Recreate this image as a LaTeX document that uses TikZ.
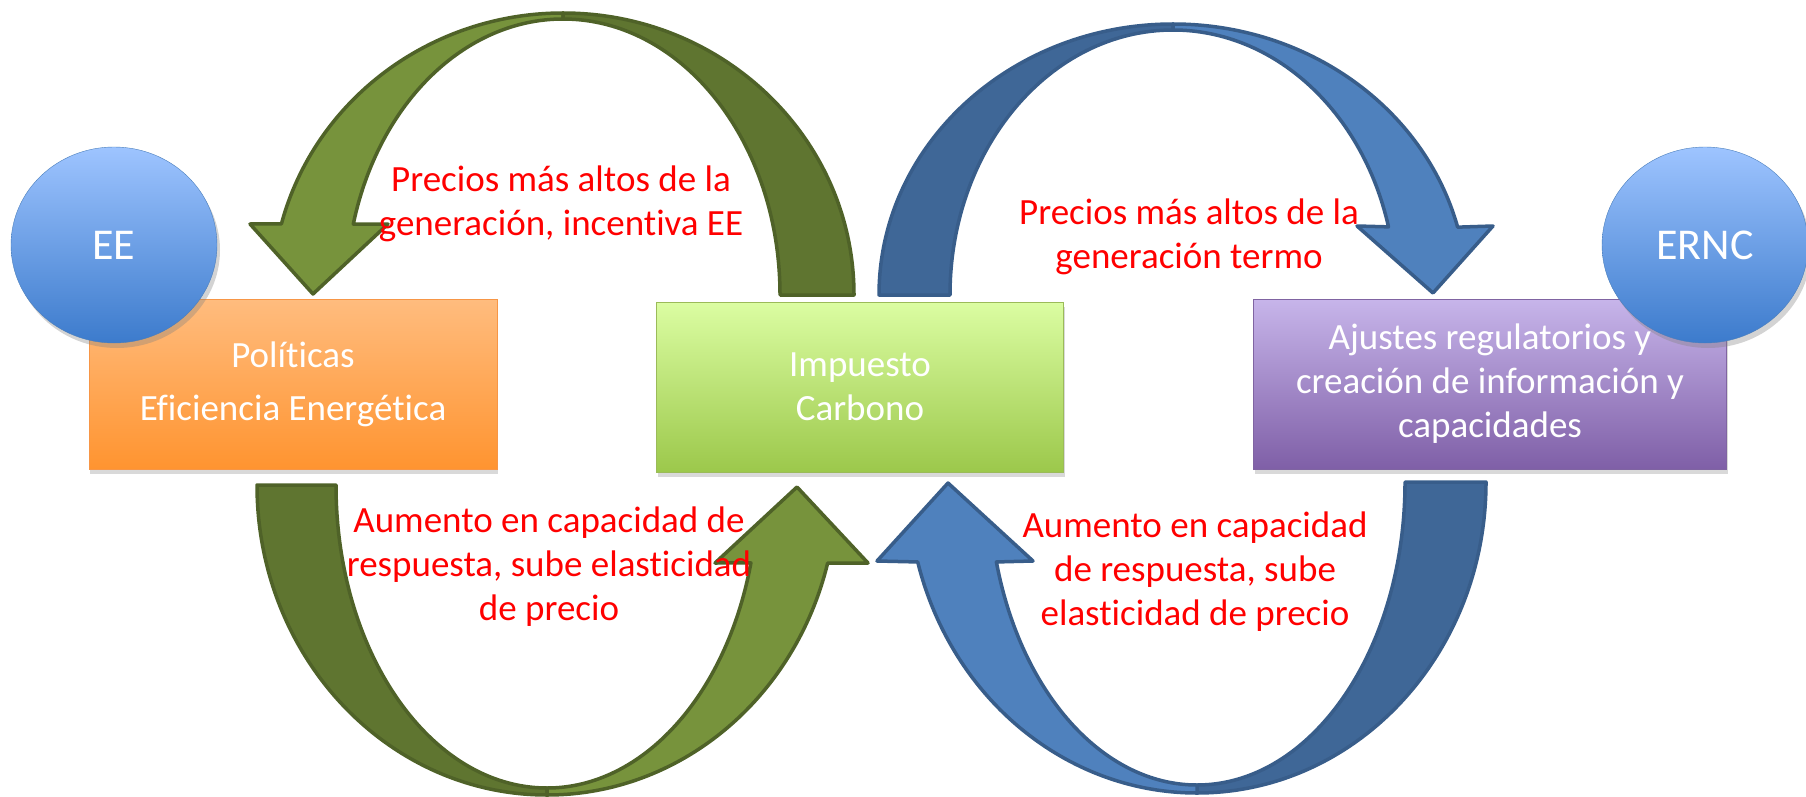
\documentclass[tikz,border=0pt]{standalone}
\usepackage{fontspec}
\setmainfont{Carlito}[Ligatures=CommonOff]
\usetikzlibrary{calc,shadows,shapes.geometric}
\definecolor{oliveA}{HTML}{77933C}
\definecolor{oliveB}{HTML}{5F7530}
\definecolor{oliveL}{HTML}{4F6228}
\definecolor{blueA}{HTML}{4F81BD}
\definecolor{blueB}{HTML}{3F6797}
\definecolor{blueL}{HTML}{385D8A}
\definecolor{orangeT}{HTML}{FFBC7E}
\definecolor{orangeB}{HTML}{FF9430}
\definecolor{orangeL}{HTML}{F79646}
\definecolor{limeT}{HTML}{DBFDA2}
\definecolor{limeB}{HTML}{9CC84B}
\definecolor{limeL}{HTML}{9BBB59}
\definecolor{lilacT}{HTML}{C7B5EA}
\definecolor{lilacB}{HTML}{7F5FA7}
\definecolor{lilacL}{HTML}{8064A2}
\definecolor{ballT}{HTML}{9EC4FF}
\definecolor{ballB}{HTML}{3C7BCC}
\definecolor{ballL}{HTML}{4A7EBB}
\tikzset{
  band/.style={line width=3.5pt, line join=round},
  box/.style={minimum height=170pt, inner sep=0pt, align=center, text=white,
    font=\fontsize{37}{44}\selectfont,
    drop shadow={shadow xshift=1pt, shadow yshift=-5pt, opacity=0.3}},
  ball/.style={ellipse, minimum width=206pt, minimum height=196pt, draw=ballL,
    top color=ballT, bottom color=ballB, text=white,
    font=\fontsize{44}{52}\selectfont,
    drop shadow={shadow xshift=3pt, shadow yshift=-5pt, opacity=0.35}},
  cue/.style={text=red, align=center, font=\fontsize{37}{44}\selectfont}
}
\begin{document}
\begin{tikzpicture}[x=1pt, y=-1pt]
\useasboundingbox (0,0) rectangle (1806,797);
\coordinate (gt) at (563,295);
\coordinate (gb) at (547,485);
\coordinate (bt) at (1173,295);
\coordinate (bb) at (1197,482);

\filldraw[band, draw=oliveL, fill=oliveA] ($(gt)+(194.6:291 and 282)$) arc[start angle=194.6, end angle=270, x radius=291, y radius=282]
  -- ($(gt)+(270:217 and 276)$) arc[start angle=270, end angle=194.9, x radius=217, y radius=276]
  -- (388,224) -- (313,294) -- (250,224) -- cycle;
\filldraw[band, draw=oliveL, fill=oliveB] ($(gt)+(270:291 and 282)$) arc[start angle=270, end angle=360, x radius=291, y radius=282]
  -- ($(gt)+(0:217 and 276)$) arc[start angle=360, end angle=270, x radius=217, y radius=276] -- cycle;

\filldraw[band, draw=blueL, fill=blueB] ($(bt)+(180:294 and 271)$) arc[start angle=180, end angle=270, x radius=294, y radius=271]
  -- ($(bt)+(270:223 and 265)$) arc[start angle=270, end angle=180, x radius=223, y radius=265] -- cycle;
\filldraw[band, draw=blueL, fill=blueA] ($(bt)+(270:294 and 271)$) arc[start angle=270, end angle=345.5, x radius=294, y radius=271]
  -- (1493,226) -- (1433,293) -- (1357,226)
  -- ($(bt)+(345.1:223 and 265)$) arc[start angle=345.1, end angle=270, x radius=223, y radius=265] -- cycle;

\filldraw[band, draw=oliveL, fill=oliveB] ($(gb)+(180:290 and 310)$) arc[start angle=180, end angle=90, x radius=290, y radius=310]
  -- ($(gb)+(90:211 and 303)$) arc[start angle=90, end angle=180, x radius=211, y radius=303] -- cycle;
\filldraw[band, draw=oliveL, fill=oliveA] ($(gb)+(90:290 and 310)$) arc[start angle=90, end angle=14.6, x radius=290, y radius=310]
  -- (868,563) -- (797,487) -- (715,563)
  -- ($(gb)+(14.9:211 and 303)$) arc[start angle=14.9, end angle=90, x radius=211, y radius=303] -- cycle;

\filldraw[band, draw=blueL, fill=blueB] ($(bb)+(0:289 and 311)$) arc[start angle=0, end angle=90, x radius=289, y radius=311]
  -- ($(bb)+(90:208 and 303)$) arc[start angle=90, end angle=0, x radius=208, y radius=303] -- cycle;
\filldraw[band, draw=blueL, fill=blueA] ($(bb)+(90:289 and 311)$) arc[start angle=90, end angle=165.1, x radius=289, y radius=311]
  -- (877,561) -- (948,483) -- (1033,561)
  -- ($(bb)+(164.7:208 and 303)$) arc[start angle=164.7, end angle=90, x radius=208, y radius=303] -- cycle;

\node[box, minimum width=408pt, draw=orangeL, top color=orangeT, bottom color=orangeB] (pol) at (293,384) {Políticas\\[9pt]Eficiencia Energética};
\node[box, minimum width=407pt, draw=limeL, top color=limeT, bottom color=limeB] (imp) at (860,387) {Impuesto\\Carbono};
\node[box, minimum width=473pt, draw=lilacL, top color=lilacT, bottom color=lilacB] (aju) at (1490,384) {Ajustes regulatorios y\\creación de información y\\capacidades};
\node[ball] (ee) at (114,245) {EE};
\node[ball] (ernc) at (1705,245) {ERNC};

\node[cue] (pta) at (561,204) {Precios más altos de la\\generación, incentiva EE};
\node[cue] (ptb) at (1189,237) {Precios más altos de la\\generación termo};
\node[cue] (aua) at (549,567) {Aumento en capacidad de\\respuesta, sube elasticidad\\de precio};
\node[cue] (aub) at (1195,572) {Aumento en capacidad\\de respuesta, sube\\elasticidad de precio};
\end{tikzpicture}
\end{document}
